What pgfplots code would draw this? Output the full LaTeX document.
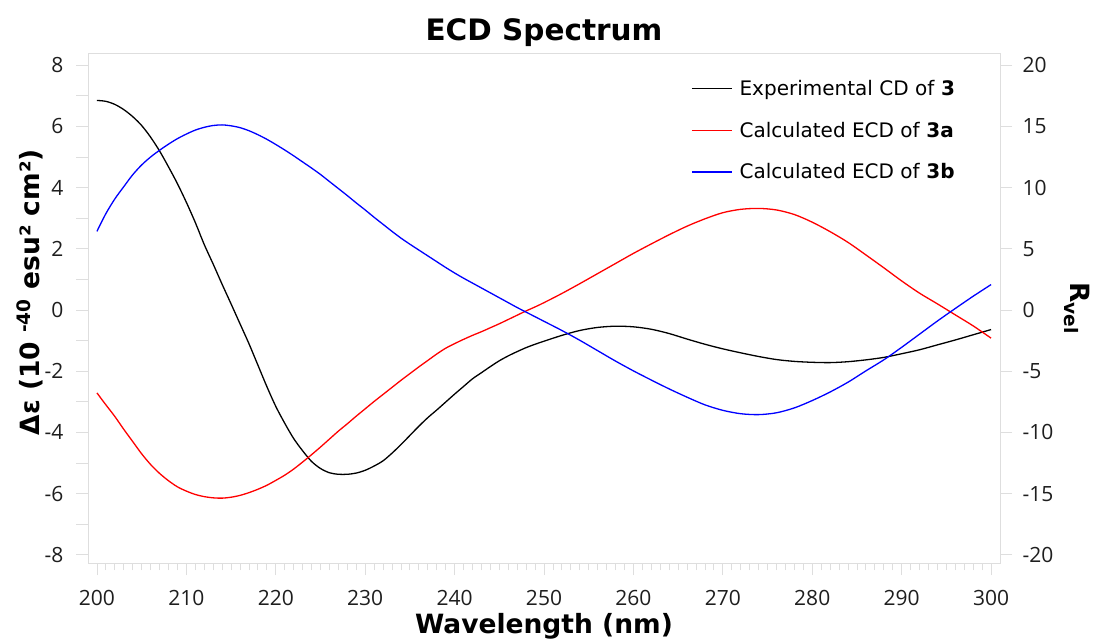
\documentclass[border=0pt]{standalone}
\usepackage{pgfplots}
\pgfplotsset{compat=1.18}
\usepackage{fontspec}
\setmainfont{DejaVu Sans}
\newfontfamily\tickfont{Open Sans}
\definecolor{framegray}{RGB}{222,222,222}
\definecolor{labelgray}{RGB}{30,30,30}

\begin{document}
\begin{tikzpicture}
\begin{axis}[
  name=main,
  scale only axis,
  width=912pt, height=510pt,
  xmin=199, xmax=301,
  ymin=-8.27, ymax=8.40,
  axis line style={framegray},
  tick align=outside,
  major tick length=12pt, minor tick length=7pt,
  tick style={framegray, line width=0.8pt},
  xtick={200,210,...,300},
  minor x tick num=9,
  xtick pos=bottom,
  ytick={-8,-7,...,8},
  yticklabels={-8,{},-6,{},-4,{},-2,{},0,{},2,{},4,{},6,{},8},
  ytick pos=left,
  /pgf/number format/assume math mode=true,
  ticklabel style={font=\tickfont\fontsize{21}{21}\selectfont, text=labelgray},
  xticklabel style={yshift=-12pt},
  yticklabel style={xshift=-9pt},
  title={ECD Spectrum},
  title style={font=\bfseries\fontsize{29.5}{31}\selectfont, at={(axis description cs:0.5,1)}, anchor=south, yshift=-3pt},
  xlabel={Wavelength (nm)},
  xlabel style={font=\bfseries\fontsize{26.5}{28}\selectfont, at={(axis description cs:0.5,0)}, anchor=center, yshift=-63pt},
  ylabel={Δε (10 \textsuperscript{-40} esu² cm²)},
  ylabel style={font=\bfseries\fontsize{26.5}{28}\selectfont, at={(axis description cs:-0.0636,0.531)}, anchor=center},
  legend style={at={(axis description cs:0.658,0.955)}, anchor=north west, draw=none, fill=none,
    font=\fontsize{20}{24}\selectfont, row sep=21pt},
  legend cell align=left,
  legend image code/.code={\draw[mark repeat=2,mark phase=2,#1] plot coordinates {(0pt,0pt) (20pt,0pt) (40pt,0pt)};\path (45pt,0pt);},
]
% Experimental CD of 3
\addplot[black, line width=1.3pt, smooth] coordinates {
(200,6.85) (201,6.82) (202,6.72) (203,6.55) (204,6.32) (205,6.03) (206,5.65) (207,5.2)
(208,4.68) (209,4.13) (210,3.52) (211,2.86) (212,2.14) (213,1.5) (214,0.84) (215,0.2)
(216,-0.45) (217,-1.1) (218,-1.8) (219,-2.5) (220,-3.15) (221,-3.7) (222,-4.2)
(223,-4.6) (224,-4.95) (225,-5.18) (226,-5.32) (227,-5.37) (228,-5.37) (229,-5.33)
(230,-5.24) (231,-5.1) (232,-4.93) (233,-4.68) (234,-4.4) (235,-4.1) (236,-3.8)
(237,-3.52) (238,-3.27) (239,-3.01) (240,-2.75) (241,-2.5) (242,-2.25) (243,-2.05)
(244,-1.85) (245,-1.66) (246,-1.5) (247,-1.36) (248,-1.23) (249,-1.12) (250,-1.02)
(252,-0.83) (254,-0.67) (256,-0.57) (258,-0.53) (260,-0.55) (262,-0.63) (264,-0.77)
(266,-0.95) (268,-1.12) (270,-1.27) (272,-1.4) (274,-1.52) (276,-1.62) (278,-1.68)
(280,-1.71) (282,-1.72) (284,-1.69) (286,-1.63) (288,-1.55) (290,-1.43) (292,-1.3)
(294,-1.14) (296,-0.98) (298,-0.81) (300,-0.64)
};
\addlegendentry{Experimental CD of \textbf{3}}
% Calculated ECD of 3a
\addplot[red, line width=1.3pt, smooth] coordinates {
(200,-2.71) (201,-3.1) (202,-3.48) (203,-3.9) (204,-4.3) (205,-4.7) (206,-5.05)
(207,-5.34) (208,-5.58) (209,-5.78) (210,-5.92) (211,-6.03) (212,-6.1) (213,-6.14)
(214,-6.15) (215,-6.12) (216,-6.06) (217,-5.97) (218,-5.86) (219,-5.73) (220,-5.57)
(221,-5.4) (222,-5.2) (223,-4.97) (224,-4.73) (225,-4.48) (226,-4.22) (227,-3.96)
(228,-3.72) (229,-3.47) (230,-3.23) (231,-2.99) (232,-2.76) (233,-2.53) (234,-2.3)
(235,-2.08) (236,-1.86) (237,-1.65) (238,-1.44) (239,-1.25) (240,-1.1) (241,-0.96)
(242,-0.83) (243,-0.71) (244,-0.58) (245,-0.45) (246,-0.31) (247,-0.17) (248,-0.03)
(249,0.1) (250,0.24) (252,0.54) (254,0.86) (256,1.19) (258,1.52) (260,1.85) (262,2.16)
(264,2.46) (266,2.74) (268,2.98) (270,3.18) (272,3.29) (274,3.32) (276,3.27) (278,3.12)
(280,2.87) (282,2.56) (284,2.21) (286,1.8) (288,1.38) (290,0.95) (292,0.55) (294,0.2)
(296,-0.16) (298,-0.52) (300,-0.92)
};
\addlegendentry{Calculated ECD of \textbf{3a}}
% Calculated ECD of 3b
\addplot[blue, line width=1.3pt, smooth] coordinates {
(200,2.57) (201,3.15) (202,3.63) (203,4.03) (204,4.42) (205,4.74) (206,5.0) (207,5.22)
(208,5.42) (209,5.6) (210,5.75) (211,5.88) (212,5.97) (213,6.03) (214,6.05) (215,6.02)
(216,5.96) (217,5.86) (218,5.73) (219,5.58) (220,5.41) (221,5.23) (222,5.04) (223,4.84)
(224,4.64) (225,4.43) (226,4.2) (227,3.97) (228,3.74) (229,3.5) (230,3.27) (231,3.03)
(232,2.8) (233,2.57) (234,2.35) (235,2.15) (236,1.96) (237,1.77) (238,1.58) (239,1.39)
(240,1.21) (241,1.04) (242,0.88) (243,0.72) (244,0.56) (245,0.4) (246,0.24) (247,0.08)
(248,-0.07) (249,-0.22) (250,-0.37) (252,-0.67) (254,-0.99) (256,-1.33) (258,-1.67)
(260,-1.99) (262,-2.29) (264,-2.58) (266,-2.85) (268,-3.1) (270,-3.28) (272,-3.39)
(274,-3.42) (276,-3.36) (278,-3.2) (280,-2.96) (282,-2.68) (284,-2.36) (286,-1.99)
(288,-1.63) (290,-1.22) (292,-0.79) (294,-0.36) (296,0.05) (298,0.45) (300,0.83)
};
\addlegendentry{Calculated ECD of \textbf{3b}}
\end{axis}
\begin{axis}[
  scale only axis,
  width=912pt, height=510pt,
  xmin=199, xmax=301,
  ymin=-20.67, ymax=21.0,
  axis x line=none,
  axis y line*=right,
  y axis line style={framegray, -},
  tick align=outside,
  major tick length=12pt,
  tick style={framegray, line width=0.8pt},
  ytick={-20,-15,...,20},
  yticklabels={-20,-15,-10,-5,0,5,10,15,20},
  ticklabel style={font=\tickfont\fontsize{21}{21}\selectfont, text=labelgray},
  yticklabel style={xshift=7pt},
  ylabel={R\textsubscript{vel}},
  ylabel style={font=\bfseries\fontsize{26.5}{28}\selectfont, at={(axis description cs:1.0844,0.5)}, anchor=center, rotate=180},
]
\end{axis}
\pgfresetboundingbox
\path[use as bounding box] ([xshift=-88pt,yshift=-78pt]main.south west) rectangle ++(1094pt,641pt);
\end{tikzpicture}
\end{document}
